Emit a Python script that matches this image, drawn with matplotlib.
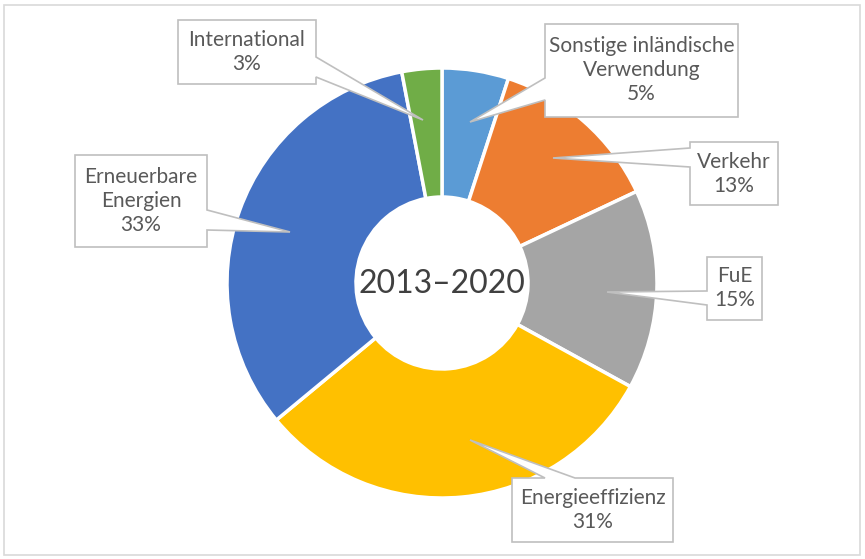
import matplotlib
matplotlib.use("Agg")
import matplotlib.pyplot as plt
from matplotlib.patches import Polygon, Rectangle

# Aufteilung 2013-2020, im Uhrzeigersinn ab 12 Uhr
names = ["Sonstige inländische\nVerwendung", "Verkehr", "FuE",
         "Energieeffizienz", "Erneuerbare\nEnergien", "International"]
shares = [5, 13, 15, 31, 33, 3]
colors = ["#5B9BD5", "#ED7D31", "#A5A5A5", "#FFC000", "#4472C4", "#70AD47"]
center_label = "2013–2020"

W, H = 865, 559
# Callout-Boxen in Pixeln (links, oben, rechts, unten), Spitze, Kante der Basis
boxes = [
    ((545, 24, 738, 117), (470, 122), "left", (78, 100)),
    ((690, 142, 778, 205), (553, 158), "left", (148, 167)),
    ((707, 257, 762, 320), (607, 292), "left", (291, 305)),
    ((512, 478, 673, 542), (470, 440), "top", (545, 575)),
    ((75, 155, 207, 247), (290, 232), "right", (210, 230)),
    ((178, 20, 316, 84), (423, 120), "right", (57, 77)),
]

plt.rcParams['font.family'] = ['Lato', 'DejaVu Sans']

fig = plt.figure(figsize=(W / 100, H / 100), dpi=100)
ax = fig.add_axes([0, 0, 1, 1])

cx, cy, r = 442, H - 283, 215
ax.pie(shares, colors=colors, startangle=90, counterclock=False,
       center=(cx, cy), radius=r,
       wedgeprops=dict(width=r * 0.6, edgecolor="white", linewidth=2.5))
ax.set_xlim(0, W)
ax.set_ylim(0, H)
ax.set_aspect("equal")
ax.axis("off")

ax.text(cx, cy - 1, center_label, ha="center", va="center",
        fontsize=23, color="#404040")


def callout(box, tip, side, base):
    # Rechteck mit eingesetzter Spitze als ein Polygon
    x0, y0, x1, y1 = box
    b0, b1 = base
    if side == "left":
        pts = [(x0, y0), (x1, y0), (x1, y1), (x0, y1), (x0, b1), tip, (x0, b0)]
    elif side == "right":
        pts = [(x0, y0), (x1, y0), (x1, b0), tip, (x1, b1), (x1, y1), (x0, y1)]
    else:  # top
        pts = [(x0, y0), (b0, y0), tip, (b1, y0), (x1, y0), (x1, y1), (x0, y1)]
    pts = [(px, H - py) for px, py in pts]
    ax.add_patch(Polygon(pts, closed=True, facecolor="white",
                         edgecolor="#BFBFBF", linewidth=1.2, zorder=3))


for name, val, (box, tip, side, base) in zip(names, shares, boxes):
    callout(box, tip, side, base)
    x0, y0, x1, y1 = box
    ax.text((x0 + x1) / 2, H - (y0 + y1) / 2, f"{name}\n{val}%",
            ha="center", va="center", fontsize=15, color="#595959",
            linespacing=1.25, zorder=4)

# Rahmen des Diagrammbereichs
ax.add_patch(Rectangle((4, 4), W - 9, H - 9, fill=False,
                       edgecolor="#D9D9D9", linewidth=1.2))

fig.savefig("out.png", dpi=100)
